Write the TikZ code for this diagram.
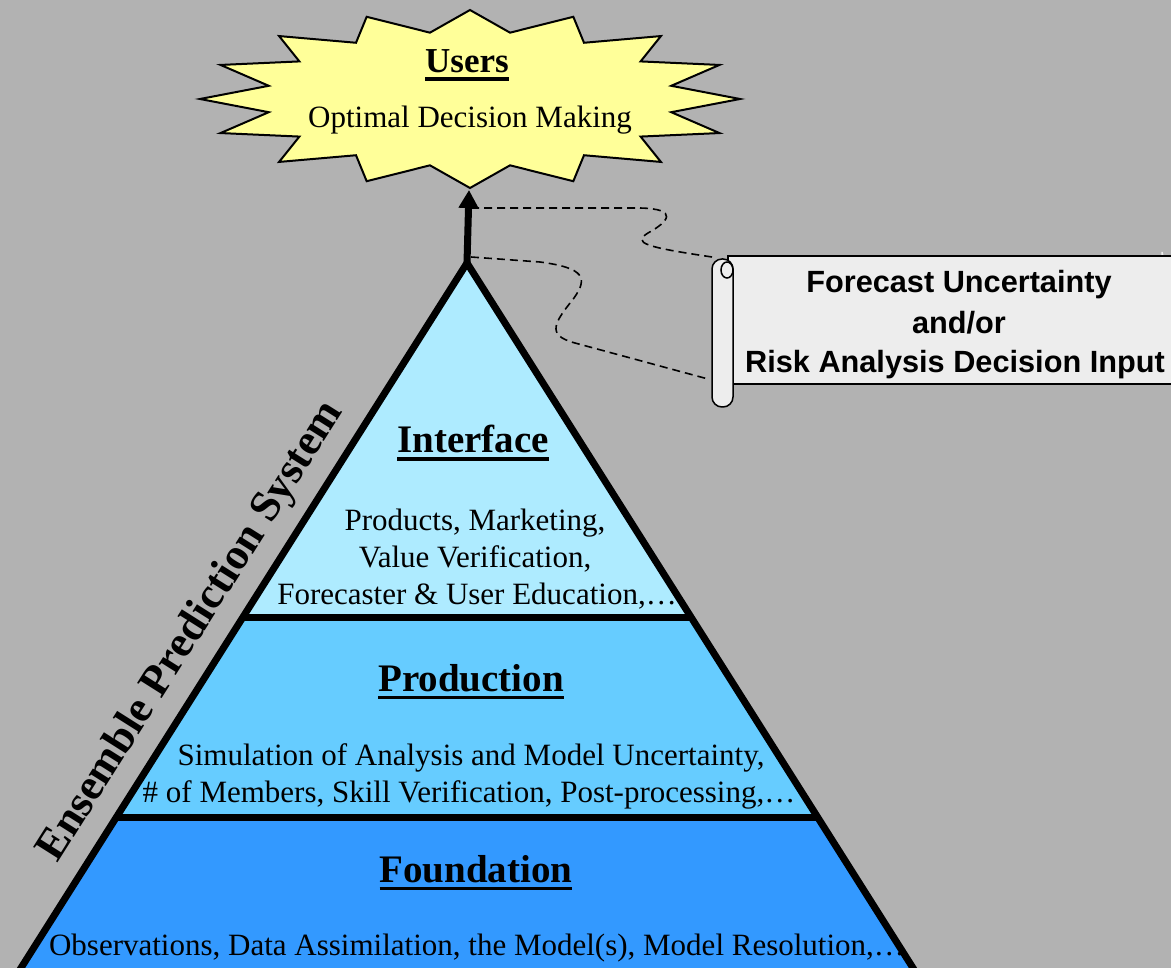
\documentclass[tikz,border=0pt]{standalone}
\usepackage{fontspec}
\setmainfont{Liberation Serif}
\newfontfamily\scrollfont{Liberation Sans}
\usetikzlibrary{arrows.meta}

\definecolor{bggray}{HTML}{B2B2B2}
\definecolor{starcol}{HTML}{FFFF99}
\definecolor{interfacecol}{HTML}{AEEBFF}
\definecolor{productioncol}{HTML}{66CCFF}
\definecolor{foundationcol}{HTML}{3399FF}
\definecolor{scrollcol}{HTML}{EDEDED}

% heading with a heavy underline
\newcommand{\headul}[1]{\setbox0\hbox{#1}\rlap{\rule[-8pt]{\wd0}{3.5pt}}\box0}

\begin{document}
\begin{tikzpicture}[x=1pt,y=-1pt,
  layer/.style = {draw, line width=7pt, line join=miter},
  head/.style = {anchor=base, font=\fontsize{39}{44}\selectfont\bfseries},
  body/.style = {anchor=base, font=\fontsize{31}{37}\selectfont},
  side/.style = {anchor=base, rotate=57.7, font=\fontsize{44}{48}\selectfont\bfseries},
  scrolltext/.style = {anchor=base, font=\scrollfont\fontsize{30.7}{40}\selectfont\bfseries},
  link/.style = {dash pattern=on 8pt off 5pt, line width=1.6pt}]
\fill[bggray] (0,0) rectangle (1171,968);
\clip (0,0) rectangle (1171,968);

% pyramid
\coordinate (apex) at (467,263);
\coordinate (il) at (243,617);
\coordinate (ir) at (691,617);
\coordinate (pl) at (116.5,817);
\coordinate (pr) at (817.5,817);
\coordinate (fl) at (11.5,983);
\coordinate (fr) at (922.5,983);
\fill[interfacecol] (apex) -- (ir) -- (il) -- cycle;
\fill[productioncol] (il) -- (ir) -- (pr) -- (pl) -- cycle;
\fill[foundationcol] (pl) -- (pr) -- (fr) -- (fl) -- cycle;
\draw[layer] (il) -- (ir);
\draw[layer] (pl) -- (pr);
\draw[layer] (fl) -- (apex) -- (fr);

% star
\draw[fill=starcol, line width=2pt, line join=miter] (470,10)
  \foreach \k in {1,...,31} {
    -- ({470+270*(1-0.24*mod(\k,2))*cos(90+11.25*\k)},{99-89*(1-0.24*mod(\k,2))*sin(90+11.25*\k)})
  } -- cycle;
\coordinate (tip) at (469,190);
\node[anchor=base, font=\fontsize{35}{40}\selectfont\bfseries] (users) at (467,73) {\headul{Users}};
\node[body] (goal) at (470,128) {Optimal Decision Making};

\draw[line width=7pt, -{Triangle[length=18pt,width=19pt]}] (apex) -- (tip);

% scroll
\fill[scrollcol, draw, line width=1.5pt] (1162,258) -- (1162,252) arc[start angle=180, end angle=0, radius=9] -- (1180,258);
\draw[fill=scrollcol, line width=1.5pt] (728,256) rectangle (1190,384);
\draw[fill=scrollcol, line width=1.5pt, rounded corners=10pt] (712,259) rectangle (733,407);
\draw[line width=1.5pt] (727,270) ellipse[x radius=6, y radius=8];
\coordinate (rolltop) at (712,257);
\coordinate (rollbot) at (708,379);
\node[scrolltext] (fc1) at (959,293) {Forecast Uncertainty};
\node[scrolltext] (fc2) at (959,334) {and/or};
\node[scrolltext] (fc3) at (955,373) {Risk Analysis Decision Input};

% dashed links from the shaft to the scroll
\coordinate (s1) at (471,208);
\coordinate (s2) at (471,257);
\draw[link] (s1) -- (640,208) .. controls (680,209) and (668,222) .. (648,233)
  .. controls (632,243) and (645,247) .. (rolltop);
\draw[link] (s2) -- (540,262) .. controls (585,268) and (588,278) .. (574,298)
  .. controls (555,322) and (545,335) .. (575,343) -- (rollbot);

% labels
\node[head] (interface) at (473,453) {\headul{Interface}};
\node[body] (i1) at (475,530) {Products, Marketing,};
\node[body] (i2) at (475,567) {Value Verification,};
\node[body] (i3) at (477,604) {Forecaster \& User Education,\dots};
\node[head] (production) at (471,691) {\headul{Production}};
\node[body] (p1) at (471,765) {Simulation of Analysis and Model Uncertainty,};
\node[body] (p2) at (469,802) {\# of Members, Skill Verification, Post-processing,\dots};
\node[head] (foundation) at (476,882) {\headul{Foundation}};
\node[body] (f1) at (477,955) {Observations, Data Assimilation, the Model(s), Model Resolution,\dots};

% label along the left edge, one word at a time
\node[side] (ensemble) at (106.4,786.1) {Ensemble};
\node[side] (prediction) at (213.5,616.8) {Prediction};
\node[side] (system) at (307.5,468.0) {System};
\end{tikzpicture}
\end{document}
